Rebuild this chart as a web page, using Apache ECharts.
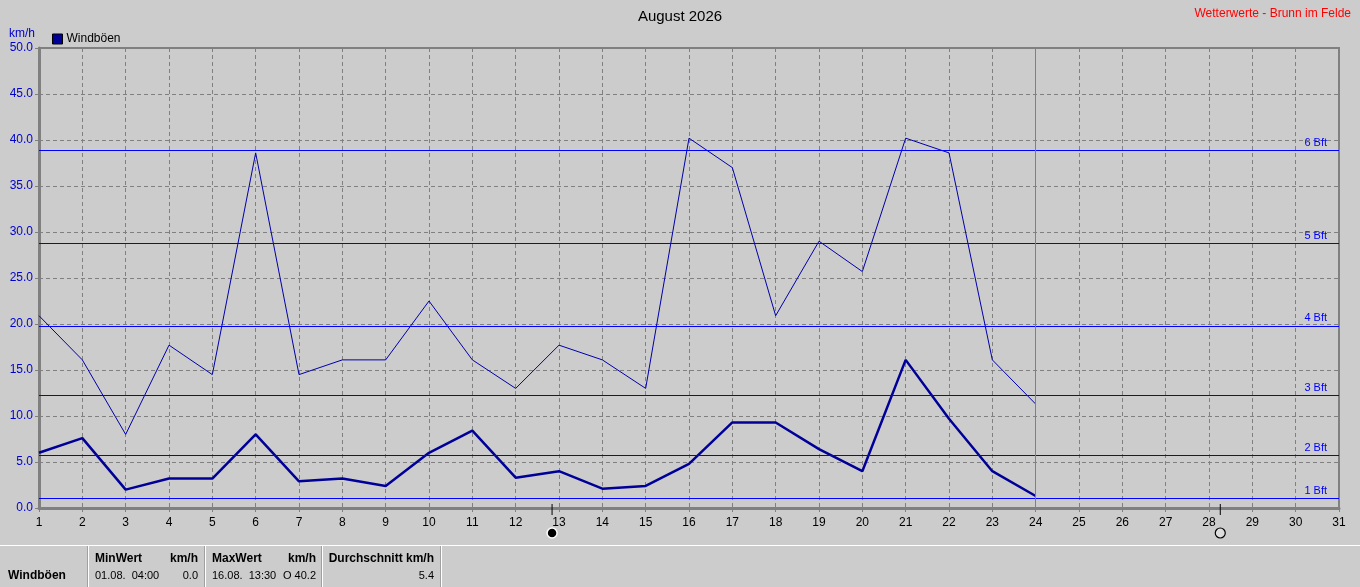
<!DOCTYPE html>
<html>
<head>
<meta charset="utf-8">
<script src="https://cdn.jsdelivr.net/npm/echarts@6/dist/echarts.min.js"></script>
<style>
html,body{margin:0;padding:0;background:#cccccc;}
#c{width:1360px;height:587px;}
</style>
</head>
<body>
<div id="c"></div>
<script>
// ---- data ----
const days = [1,2,3,4,5,6,7,8,9,10,11,12,13,14,15,16,17,18,19,20,21,22,23,24];
const gustMax = [20.9,16.1,8.0,17.7,14.5,38.6,14.5,16.1,16.1,22.5,16.1,13.0,17.7,16.1,13.0,40.2,37.0,20.9,29.0,25.7,40.2,38.6,16.1,11.3];
const gustAvg = [6.0,7.6,2.0,3.2,3.2,8.0,2.9,3.2,2.4,6.0,8.4,3.3,4.0,2.1,2.4,4.8,9.3,9.3,6.4,4.0,16.1,9.7,4.0,1.3];
const bftLevels = [1.08,5.76,12.24,19.8,28.8,38.88];
const bftLabels = ['1 Bft','2 Bft','3 Bft','4 Bft','5 Bft','6 Bft'];
const currentDay = 24;
const moonDays = [12.84, 28.26];
const moonTypes = ['new','full'];
const xTicks = {min:1, max:31, interval:1};
const yTicks = {min:0, max:50, interval:5};
const titleText = 'August 2026';
const sourceText = 'Wetterwerte - Brunn im Felde';
const unitText = 'km/h';
const seriesName = 'Windböen';
const statHeaders = ['MinWert','km/h','MaxWert','km/h','Durchschnitt km/h'];
const statValues = ['01.08.  04:00','0.0','16.08.  13:30','O 40.2','5.4'];

const FONT = 'Liberation Sans, Arial, sans-serif';
const chart = echarts.init(document.getElementById('c'), null, {renderer:'canvas'});

const bftMarks = bftLevels.map((v,i)=>({yAxis:v, label:{formatter:bftLabels[i]}}));

const option = {
  backgroundColor:'#cccccc',
  animation:false,
  textStyle:{fontFamily:FONT},
  title:[
    {text:titleText, left:'center', top:4, textStyle:{fontSize:15, fontWeight:'normal', color:'#000', fontFamily:FONT}},
    {text:sourceText, right:4, top:3, textStyle:{fontSize:12, fontWeight:'normal', color:'#ff0000', fontFamily:FONT}}
  ],
  legend:{
    data:[seriesName], left:47, top:28, itemWidth:10, itemHeight:10, itemGap:4,
    icon:'rect',
    itemStyle:{borderColor:'#000', borderWidth:1},
    textStyle:{fontSize:12, color:'#000', fontFamily:FONT, padding:[0,0,0,-1]}
  },
  grid:{left:39, right:21, top:48, bottom:79, show:true, borderColor:'#808080', borderWidth:2, backgroundColor:'transparent'},
  xAxis:{
    type:'value', min:xTicks.min, max:xTicks.max, interval:xTicks.interval,
    axisLine:{lineStyle:{color:'#808080', width:3}},
    axisTick:{show:true, length:4, lineStyle:{color:'#808080'}},
    axisLabel:{color:'#000', fontSize:12, margin:9, fontFamily:FONT},
    splitLine:{show:true, lineStyle:{color:'#808080', type:[4,3], width:1}}
  },
  yAxis:{
    type:'value', min:yTicks.min, max:yTicks.max, interval:yTicks.interval,
    name:unitText, nameLocation:'end', nameGap:8,
    nameTextStyle:{color:'#0000cc', fontSize:12, align:'right', padding:[0,4,0,0], fontFamily:FONT},
    axisLine:{show:true, lineStyle:{color:'#808080', width:3}},
    axisTick:{show:true, length:4, lineStyle:{color:'#808080'}},
    axisLabel:{color:'#0000cc', fontSize:12, margin:6, formatter:v=>v.toFixed(1), fontFamily:FONT},
    splitLine:{show:true, lineStyle:{color:'#808080', type:[4,3], width:1}}
  },
  series:[
    {
      name:'Windböen max', type:'line', symbol:'none', z:3,
      data:days.map((d,i)=>[d,gustMax[i]]),
      lineStyle:{color:'#0000aa', width:1},
      itemStyle:{color:'#0000aa'},
      markLine:{
        silent:true, symbol:'none',
        lineStyle:{color:'#0000ff', width:1, type:'solid'},
        label:{position:'insideEndTop', color:'#0000ff', fontSize:11, distance:[12,2], fontFamily:FONT},
        data:bftMarks
      }
    },
    {
      name:seriesName, type:'line', symbol:'none', z:4,
      data:days.map((d,i)=>[d,gustAvg[i]]),
      lineStyle:{color:'#000099', width:2.5},
      itemStyle:{color:'#000099'},
      markLine:{
        silent:true, symbol:'none',
        lineStyle:{color:'#808080', width:1, type:'solid'},
        label:{show:false},
        data:[{xAxis:currentDay}]
      }
    }
  ]
};
chart.setOption(option);

// ---- overlay graphics (moon phases + statistics panel) ----
const g = [];
moonDays.forEach((d,i)=>{
  const p = chart.convertToPixel({xAxisIndex:0, yAxisIndex:0}, [d, 0]);
  g.push({type:'line', shape:{x1:p[0], y1:p[1]-4, x2:p[0], y2:p[1]+7}, style:{stroke:'#000', lineWidth:1}, z:100});
  const full = moonTypes[i]==='full';
  g.push({type:'circle', shape:{cx:p[0], cy:p[1]+25, r:5},
    style:{fill: full ? '#dddddd' : '#000', stroke: full ? '#000' : '#fff', lineWidth: full ? 1.2 : 1.5}, z:100});
});
// panel lines
g.push({type:'line', shape:{x1:0,y1:545.5,x2:1360,y2:545.5}, style:{stroke:'#ffffff', lineWidth:1}});
[88,205,322,441].forEach(x=>{
  g.push({type:'line', shape:{x1:x-0.5,y1:546,x2:x-0.5,y2:587}, style:{stroke:'#a0a0a0', lineWidth:1}});
  g.push({type:'line', shape:{x1:x+0.5,y1:546,x2:x+0.5,y2:587}, style:{stroke:'#ffffff', lineWidth:1}});
});
const bold = 'bold 12px ' + FONT;
const norm = '11px ' + FONT;
g.push({type:'text', left:8, top:570, style:{text:seriesName, font:bold, fill:'#000'}});
const hdrPos = [[95,'left'],[198,'right'],[212,'left'],[316,'right'],[434,'right']];
hdrPos.forEach((h,i)=>{
  g.push({type:'text', x:h[0], y:553, style:{text:statHeaders[i], font:bold, fill:'#000', textAlign:h[1]}});
  g.push({type:'text', x:h[0], y:570, style:{text:statValues[i], font:norm, fill:'#000', textAlign:h[1]}});
});
chart.setOption({graphic:g});
</script>
</body>
</html>
